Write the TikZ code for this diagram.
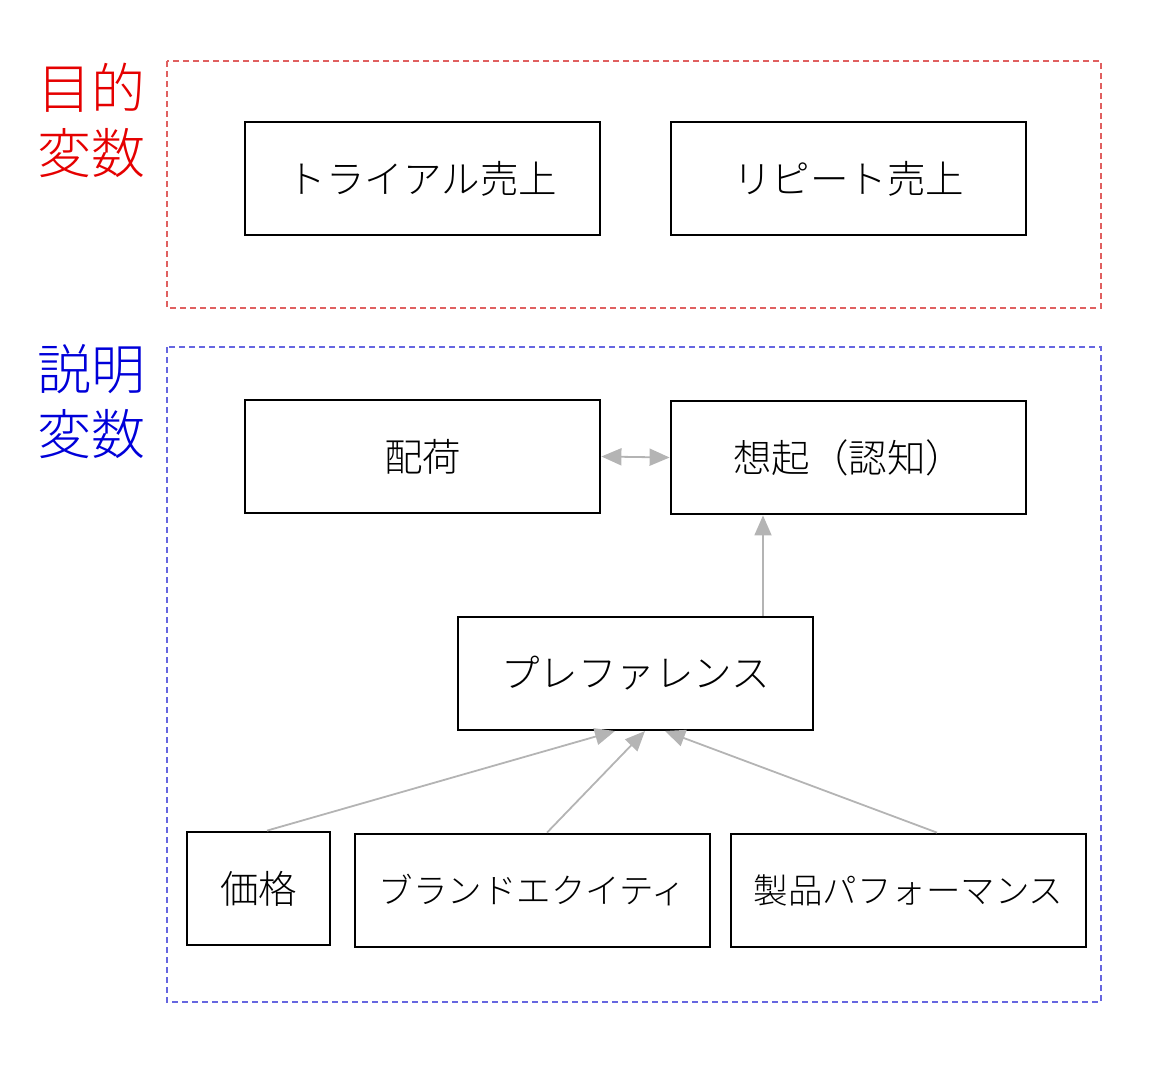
\documentclass[tikz,border=0pt]{standalone}
\usepackage{fontspec}
\setmainfont{Noto Sans CJK JP Light}
\usetikzlibrary{arrows.meta}
\definecolor{redl}{HTML}{E06060}
\definecolor{bluel}{HTML}{6666E0}
\definecolor{arr}{HTML}{B4B4B4}
\tikzset{
  box/.style={draw=black, line width=2.8pt, minimum width=355pt, minimum height=113pt, inner sep=0pt, font=\fontsize{38.5}{42}\selectfont},
  grp/.style={line width=1.2pt, dash pattern=on 6pt off 4pt},
  tip/.tip={Triangle[length=20pt,width=17pt]},
  conn/.style={draw=arr, line width=1.8pt, -tip},
  lab/.style={font=\fontsize{54}{65}\selectfont, align=center, inner sep=0pt}
}
\begin{document}
\begin{tikzpicture}[x=1pt,y=-1pt]
\useasboundingbox (0,0) rectangle (1167,1080);
% groups
\draw[grp, redl] (167,61) rectangle (1101,308);
\draw[grp, bluel] (167,347) rectangle (1101,1002);
\node[lab, text=red!90!black] (l1) at (91,120) {目的\\変数};
\node[lab, text=blue!85!black] (l2) at (91,402) {説明\\変数};
% boxes
\node[box] (trial) at (422.5,178.5) {トライアル売上};
\node[box] (repeat) at (848.5,178.5) {リピート売上};
\node[box] (haika) at (422.5,456.5) {配荷};
\node[box] (souki) at (848.5,457.5) {想起（認知）};
\node[box] (pref) at (635.5,673.5) {プレファレンス};
\node[box, minimum width=143pt] (kakaku) at (258.5,888.5) {価格};
\node[box, font=\fontsize{34.5}{38}\selectfont] (brand) at (532.5,890.5) {ブランドエクイティ};
\node[box, font=\fontsize{34.5}{38}\selectfont] (seihin) at (908.5,890.5) {製品パフォーマンス};
% coordinates
\coordinate (p1) at (615,731);
\coordinate (p2) at (645,731);
\coordinate (p3) at (665,731);
% connectors
\draw[conn, tip-tip] (haika.east) -- (souki.west);
\draw[conn] (pref.north -| 763,0) -- (souki.south -| 763,0);
\draw[conn] (kakaku.north -| 267,0) -- (p1);
\draw[conn] (brand.north -| 547,0) -- (p2);
\draw[conn] (seihin.north -| 937,0) -- (p3);
\end{tikzpicture}
\end{document}
